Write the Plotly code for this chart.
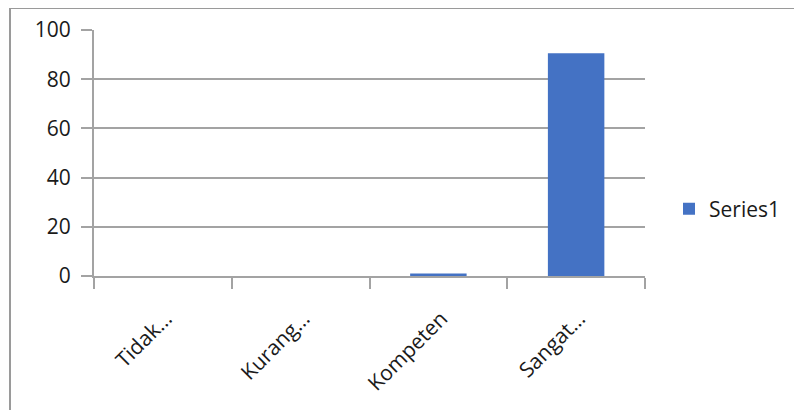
import plotly.graph_objects as go

categories = ["Tidak…", "Kurang…", "Kompeten", "Sangat…"]
values = [0, 0, 1, 90.5]
series_name = "Series1"
y_ticks = [0, 20, 40, 60, 80, 100]

# The page body has an 8px margin, so figure coords = screen coords - 8
OFF = 8
W, H = 802 - OFF, 410 - OFF
L, R, T, B = 94 - OFF, 645 - OFF, 30 - OFF, 276 - OFF

def px_x(x):
    return (x - OFF - L) / (R - L)

def px_y(y):
    return (B - (y - OFF)) / (B - T)

fig = go.Figure()
fig.add_trace(go.Bar(
    x=categories, y=values, name=series_name,
    marker=dict(color="#4472C4", line=dict(width=0)),
    showlegend=True,
))

grid = "#A3A3A3"
font = dict(family="'Open Sans', sans-serif", size=21, color="#1a1a1a")

fig.update_layout(
    width=W, height=H,
    margin=dict(l=L, r=W - R, t=T, b=H - B, pad=0, autoexpand=False),
    paper_bgcolor="white", plot_bgcolor="white",
    font=font,
    bargap=0.59,
    showlegend=True,
    legend=dict(x=px_x(669), y=px_y(209), xanchor="left", yanchor="middle",
                font=font, itemwidth=30,
                bgcolor="rgba(0,0,0,0)"),
    xaxis=dict(
        type="category", tickangle=-45, tickson="boundaries",
        ticks="outside", ticklen=11, tickcolor=grid, tickwidth=2,
        showline=True, linecolor=grid, linewidth=2,
        showgrid=False, tickfont=font, automargin=False,
        ticklabelstandoff=20, ticklabelshift=3,
    ),
    yaxis=dict(
        range=[0, 100], tickvals=y_ticks, ticks="outside", ticklen=11,
        tickcolor=grid, tickwidth=2,
        showline=True, linecolor=grid, linewidth=2,
        showgrid=True, gridcolor=grid, gridwidth=2, zeroline=False,
        tickfont=font, automargin=False, ticklabelstandoff=6,
    ),
    shapes=[
        dict(type="line", xref="paper", yref="paper",
             x0=px_x(10), x1=px_x(10), y0=px_y(8), y1=px_y(420),
             line=dict(color="#9a9a9a", width=2)),
        dict(type="line", xref="paper", yref="paper",
             x0=px_x(10), x1=px_x(820), y0=px_y(8), y1=px_y(8),
             line=dict(color="#9a9a9a", width=2)),
    ],
)

fig.write_html("out.html")
